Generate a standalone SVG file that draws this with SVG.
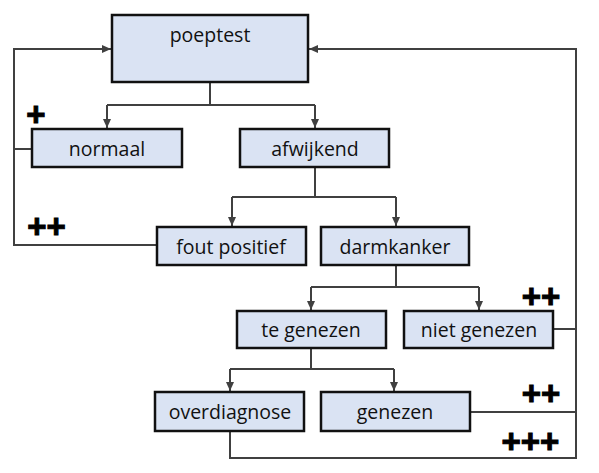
<svg xmlns="http://www.w3.org/2000/svg" width="599" height="473" viewBox="0 0 599 473">
<style>
.box{fill:#dae3f3;stroke:#111;stroke-width:2.5}
.lbl{font-family:"Open Sans","Noto Sans",sans-serif;font-size:19.5px;fill:#111;text-anchor:middle}
.plus{font-family:"Liberation Sans",Arial,sans-serif;font-weight:bold;font-size:33px;fill:#000;stroke:#000;stroke-width:1;text-anchor:middle}
.ln{fill:none;stroke:#404040;stroke-width:2}
</style>
<defs>
<marker id="ah" markerWidth="10" markerHeight="8" refX="9" refY="4" orient="auto" markerUnits="userSpaceOnUse">
<path d="M0,0 L9,4 L0,8 Z" fill="#404040"/>
</marker>
</defs>
<g id="connectors">
<path class="ln" d="M210,82 V105 M107,105 H315" />
<path class="ln" d="M107,105 V128" marker-end="url(#ah)"/>
<path class="ln" d="M315,105 V128" marker-end="url(#ah)"/>
<path class="ln" d="M315,167 V197 M232,197 H396"/>
<path class="ln" d="M232,197 V226" marker-end="url(#ah)"/>
<path class="ln" d="M396,197 V226" marker-end="url(#ah)"/>
<path class="ln" d="M396,265 V287 M311,287 H479"/>
<path class="ln" d="M311,287 V310" marker-end="url(#ah)"/>
<path class="ln" d="M479,287 V310" marker-end="url(#ah)"/>
<path class="ln" d="M311,348 V369 M230,369 H394"/>
<path class="ln" d="M230,369 V391" marker-end="url(#ah)"/>
<path class="ln" d="M394,369 V391" marker-end="url(#ah)"/>
<path class="ln" d="M32,149 H14 M157,245 H14 V49 H111" marker-end="url(#ah)"/>
<path class="ln" d="M230,431 V458 H576 V49 H309" marker-end="url(#ah)"/>
<path class="ln" d="M553,329 H576 M470,412 H576"/>
</g>
<g id="poeptest"><rect class="box" x="112" y="15" width="196" height="67"/><text class="lbl" x="210" y="42">poeptest</text></g>
<g id="normaal"><rect class="box" x="32" y="129" width="150" height="38"/><text class="lbl" x="107" y="156">normaal</text></g>
<g id="afwijkend"><rect class="box" x="240" y="129" width="149" height="38"/><text class="lbl" x="315" y="156">afwijkend</text></g>
<g id="foutpositief"><rect class="box" x="157" y="227" width="149" height="38"/><text class="lbl" x="231" y="253.5">fout positief</text></g>
<g id="darmkanker"><rect class="box" x="321" y="227" width="148" height="38"/><text class="lbl" x="395" y="253.5">darmkanker</text></g>
<g id="tegenezen"><rect class="box" x="237" y="311" width="149" height="37"/><text class="lbl" x="311" y="336.5">te genezen</text></g>
<g id="nietgenezen"><rect class="box" x="404" y="311" width="149" height="37"/><text class="lbl" x="479" y="336.5">niet genezen</text></g>
<g id="overdiagnose"><rect class="box" x="155" y="392" width="149" height="39"/><text class="lbl" x="230" y="418.5">overdiagnose</text></g>
<g id="genezen"><rect class="box" x="321" y="392" width="149" height="39"/><text class="lbl" x="395" y="418.5">genezen</text></g>
<g id="labels">
<text class="plus" x="36" y="126">+</text>
<text class="plus" x="46.5" y="238">++</text>
<text class="plus" x="541" y="308">++</text>
<text class="plus" x="541" y="405">++</text>
<text class="plus" x="530.5" y="453">+++</text>
</g>
</svg>
